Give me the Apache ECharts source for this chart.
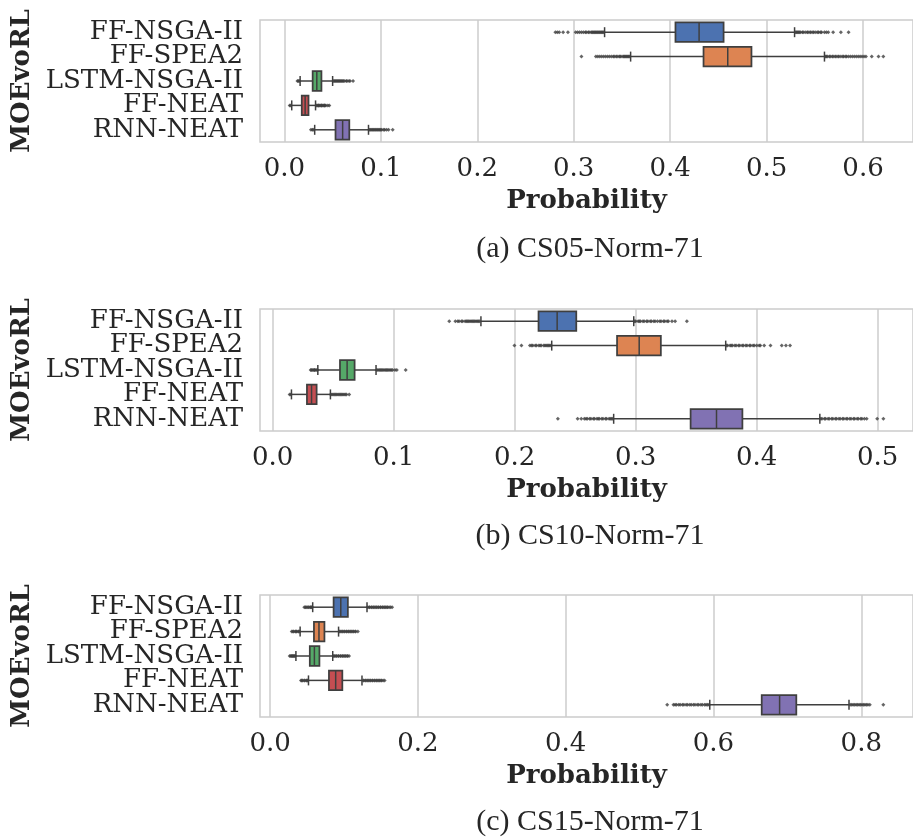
<!DOCTYPE html>
<html>
<head>
<meta charset="utf-8">
<script src="https://cdn.jsdelivr.net/npm/echarts@6/dist/echarts.min.js"></script>
<style>
  html, body { margin: 0; padding: 0; background: #fff; }
  #chart { width: 913px; height: 837px; }
</style>
</head>
<body>
<div id="chart"></div>
<script>
const categories = ['FF-NSGA-II', 'FF-SPEA2', 'LSTM-NSGA-II', 'FF-NEAT', 'RNN-NEAT']

// box stats per category: [lower whisker, Q1, median, Q3, upper whisker]
const cs05Boxes = [
  [0.332, 0.4055, 0.430, 0.4554, 0.529],
  [0.359, 0.4346, 0.4597, 0.4843, 0.560],
  [0.0163, 0.0293, 0.0336, 0.0384, 0.050],
  [0.0076, 0.018, 0.0215, 0.025, 0.0323],
  [0.0314, 0.053, 0.0604, 0.0673, 0.0872]
]
const cs05Fliers = [
  [0.281, 0.283, 0.285, 0.289, 0.294, 0.302, 0.304, 0.306, 0.308, 0.310, 0.312, 0.313, 0.315, 0.316, 0.318, 0.319,
    0.320, 0.321, 0.322, 0.323, 0.324, 0.325, 0.326, 0.327, 0.328, 0.329, 0.330, 0.331,
    0.530, 0.531, 0.532, 0.533, 0.534, 0.535, 0.537, 0.538, 0.540, 0.542, 0.543, 0.545, 0.546, 0.548, 0.549,
    0.551, 0.553, 0.554, 0.556, 0.557, 0.560, 0.562, 0.564, 0.569, 0.577, 0.585],
  [0.308, 0.323, 0.325, 0.327, 0.329, 0.331, 0.333, 0.335, 0.337, 0.339, 0.341, 0.342, 0.344, 0.345, 0.347,
    0.348, 0.349, 0.351, 0.352, 0.353, 0.354, 0.355, 0.356, 0.357, 0.358,
    0.561, 0.562, 0.563, 0.565, 0.566, 0.568, 0.569, 0.571, 0.572, 0.574, 0.575, 0.577, 0.579, 0.580, 0.582,
    0.583, 0.585, 0.587, 0.589, 0.591, 0.593, 0.595, 0.597, 0.599, 0.601, 0.603, 0.609, 0.616, 0.621],
  [0.0135, 0.0145, 0.0155, 0.051, 0.052, 0.053, 0.054, 0.055, 0.056, 0.057, 0.058, 0.059, 0.060, 0.061, 0.062,
    0.064, 0.065, 0.067, 0.068, 0.0712],
  [0.0055, 0.0065, 0.033, 0.034, 0.035, 0.0355, 0.036, 0.037, 0.038, 0.0385, 0.039, 0.040, 0.041, 0.0415, 0.042,
    0.043, 0.045, 0.0466],
  [0.0275, 0.029, 0.030, 0.088, 0.089, 0.090, 0.091, 0.092, 0.093, 0.094, 0.095, 0.096, 0.097, 0.098, 0.099,
    0.100, 0.101, 0.103, 0.104, 0.106, 0.108, 0.1123]
]

const cs10Boxes = [
  [0.1721, 0.2197, 0.2351, 0.2509, 0.2984],
  [0.2306, 0.2846, 0.3029, 0.3208, 0.3744],
  [0.0373, 0.0556, 0.0615, 0.0677, 0.0854],
  [0.0155, 0.0283, 0.0321, 0.0363, 0.0477],
  [0.2818, 0.3454, 0.3668, 0.3882, 0.4522]
]
const cs10Fliers = [
  [0.1459, 0.151, 0.153, 0.154, 0.156, 0.157, 0.159, 0.160, 0.161, 0.162, 0.163, 0.164, 0.165, 0.166, 0.167,
    0.168, 0.169, 0.170, 0.171,
    0.299, 0.300, 0.302, 0.303, 0.304, 0.306, 0.307, 0.309, 0.310, 0.312, 0.313, 0.315, 0.316, 0.318, 0.320,
    0.321, 0.323, 0.324, 0.326, 0.327, 0.330, 0.3326, 0.3423],
  [0.1998, 0.2056, 0.2126, 0.214, 0.215, 0.217, 0.218, 0.220, 0.221, 0.222, 0.224, 0.225, 0.226, 0.227, 0.228,
    0.229, 0.230,
    0.375, 0.376, 0.378, 0.379, 0.380, 0.382, 0.383, 0.385, 0.386, 0.388, 0.389, 0.391, 0.392, 0.394, 0.395,
    0.397, 0.398, 0.400, 0.402, 0.403, 0.4062, 0.4114, 0.4207, 0.4242, 0.4276],
  [0.0314, 0.032, 0.033, 0.034, 0.0345, 0.035, 0.036, 0.037, 0.086, 0.087, 0.088, 0.089, 0.090, 0.091, 0.092,
    0.093, 0.094, 0.095, 0.096, 0.097, 0.098, 0.099, 0.101, 0.1026, 0.1099],
  [0.014, 0.015, 0.048, 0.049, 0.050, 0.051, 0.052, 0.053, 0.054, 0.055, 0.056, 0.057, 0.058, 0.059, 0.060,
    0.061, 0.0632],
  [0.2357, 0.252, 0.255, 0.2576, 0.259, 0.260, 0.262, 0.263, 0.265, 0.266, 0.268, 0.269, 0.270, 0.272, 0.273,
    0.275, 0.276, 0.278, 0.279, 0.280, 0.281,
    0.453, 0.454, 0.456, 0.457, 0.459, 0.460, 0.462, 0.463, 0.465, 0.466, 0.468, 0.469, 0.471, 0.472, 0.474,
    0.475, 0.477, 0.478, 0.480, 0.481, 0.483, 0.484, 0.486, 0.487, 0.489, 0.4909, 0.4996, 0.5047]
]

const cs15Boxes = [
  [0.0577, 0.086, 0.0957, 0.1053, 0.1312],
  [0.0407, 0.0594, 0.0662, 0.0736, 0.0927],
  [0.035, 0.0538, 0.060, 0.0668, 0.0848],
  [0.052, 0.0797, 0.0888, 0.0978, 0.1244],
  [0.595, 0.6653, 0.6895, 0.7121, 0.7834]
]
const cs15Fliers = [
  [0.0464, 0.048, 0.049, 0.051, 0.052, 0.054, 0.055, 0.056, 0.057, 0.132, 0.134, 0.135, 0.137, 0.138, 0.140,
    0.141, 0.143, 0.144, 0.146, 0.147, 0.149, 0.150, 0.152, 0.153, 0.155, 0.156, 0.158, 0.159, 0.161, 0.163, 0.1652],
  [0.0294, 0.031, 0.032, 0.034, 0.035, 0.036, 0.038, 0.039, 0.040, 0.094, 0.095, 0.097, 0.098, 0.100, 0.101,
    0.103, 0.104, 0.106, 0.107, 0.109, 0.110, 0.112, 0.113, 0.115, 0.116, 0.1188],
  [0.0266, 0.028, 0.029, 0.030, 0.031, 0.032, 0.033, 0.034, 0.086, 0.087, 0.089, 0.090, 0.092, 0.093, 0.095,
    0.096, 0.098, 0.099, 0.101, 0.102, 0.104, 0.105, 0.1069],
  [0.0419, 0.043, 0.044, 0.046, 0.047, 0.049, 0.050, 0.051, 0.126, 0.127, 0.129, 0.130, 0.132, 0.133, 0.135,
    0.136, 0.138, 0.139, 0.141, 0.142, 0.144, 0.145, 0.147, 0.148, 0.150, 0.151, 0.153, 0.155],
  [0.5374, 0.5458, 0.548, 0.550, 0.553, 0.555, 0.558, 0.560, 0.563, 0.565, 0.568, 0.570, 0.573, 0.575, 0.578,
    0.580, 0.583, 0.585, 0.588, 0.590, 0.592, 0.594,
    0.785, 0.787, 0.789, 0.791, 0.793, 0.795, 0.797, 0.799, 0.801, 0.803, 0.805, 0.807, 0.809, 0.8116, 0.8298]
]

const cs05Ticks = [0, 0.1, 0.2, 0.3, 0.4, 0.5, 0.6]
const cs10Ticks = [0, 0.1, 0.2, 0.3, 0.4, 0.5]
const cs15Ticks = [0, 0.2, 0.4, 0.6, 0.8]

const captions = ['(a) CS05-Norm-71', '(b) CS10-Norm-71', '(c) CS15-Norm-71']

const palette = ['#4C72B0', '#DD8452', '#55A868', '#C44E52', '#8172B3']
const lineColor = '#3f3f3f'
const textColor = '#262626'
const font = 'DejaVu Serif'

const panels = [
  { boxes: cs05Boxes, fliers: cs05Fliers, ticks: cs05Ticks, min: -0.0253, max: 0.6518, top: 20, capY: 249 },
  { boxes: cs10Boxes, fliers: cs10Fliers, ticks: cs10Ticks, min: -0.0105, max: 0.5292, top: 309, capY: 536 },
  { boxes: cs15Boxes, fliers: cs15Fliers, ticks: cs15Ticks, min: -0.0136, max: 0.8700, top: 595, capY: 822 }
]

function renderBox(params, api) {
  const cat = api.value(0)
  const lo = api.coord([api.value(1), cat])
  const q1 = api.coord([api.value(2), cat])
  const md = api.coord([api.value(3), cat])
  const q3 = api.coord([api.value(4), cat])
  const hi = api.coord([api.value(5), cat])
  const h = api.size([0, 1])[1] * 0.8
  const cy = q1[1]
  const cap = 5
  const stroke = { stroke: lineColor, lineWidth: 1.5 }
  return {
    type: 'group',
    children: [
      { type: 'line', shape: { x1: lo[0], y1: cy, x2: q1[0], y2: cy }, style: stroke },
      { type: 'line', shape: { x1: q3[0], y1: cy, x2: hi[0], y2: cy }, style: stroke },
      { type: 'line', shape: { x1: lo[0], y1: cy - cap, x2: lo[0], y2: cy + cap }, style: stroke },
      { type: 'line', shape: { x1: hi[0], y1: cy - cap, x2: hi[0], y2: cy + cap }, style: stroke },
      {
        type: 'rect',
        shape: { x: q1[0], y: cy - h / 2, width: q3[0] - q1[0], height: h },
        style: { fill: palette[cat], stroke: lineColor, lineWidth: 1.75 }
      },
      { type: 'line', shape: { x1: md[0], y1: cy - h / 2, x2: md[0], y2: cy + h / 2 }, style: stroke }
    ]
  }
}

const grid = []
const xAxis = []
const yAxis = []
const series = []
const graphic = []

panels.forEach((p, i) => {
  grid.push({
    left: 260, top: p.top, width: 660, height: 122,
    show: true, borderColor: '#cccccc', borderWidth: 1.5, backgroundColor: '#fff'
  })
  xAxis.push({
    type: 'value',
    gridIndex: i,
    min: p.min,
    max: p.max,
    name: 'Probability',
    nameLocation: 'middle',
    nameGap: 46,
    nameTextStyle: { fontFamily: font, fontWeight: 'bold', fontSize: 26, color: textColor },
    axisLine: { show: false },
    axisTick: { show: false, customValues: p.ticks },
    splitLine: { show: true, lineStyle: { color: '#cccccc', width: 1.5 } },
    axisLabel: {
      customValues: p.ticks,
      formatter: v => v.toFixed(1),
      fontFamily: font, fontSize: 26, color: textColor, margin: 14
    }
  })
  yAxis.push({
    type: 'category',
    gridIndex: i,
    data: categories,
    inverse: true,
    name: 'MOEvoRL',
    nameLocation: 'middle',
    nameRotate: 90,
    nameGap: 223,
    nameTextStyle: { fontFamily: font, fontWeight: 'bold', fontSize: 26, color: textColor },
    axisLine: { show: false },
    axisTick: { show: false },
    splitLine: { show: false },
    axisLabel: { interval: 0, fontFamily: font, fontSize: 26, color: textColor, margin: 17 }
  })
  series.push({
    type: 'custom',
    xAxisIndex: i,
    yAxisIndex: i,
    renderItem: renderBox,
    encode: { x: [1, 2, 3, 4, 5], y: 0 },
    data: p.boxes.map((b, c) => [c].concat(b)),
    z: 3
  })
  const pts = []
  p.fliers.forEach((vals, c) => vals.forEach(v => pts.push([v, categories[c]])))
  series.push({
    type: 'scatter',
    xAxisIndex: i,
    yAxisIndex: i,
    symbol: 'diamond',
    symbolSize: 4,
    itemStyle: { color: lineColor },
    data: pts,
    z: 2
  })
  graphic.push({
    type: 'text',
    x: 590,
    y: p.capY,
    style: {
      text: captions[i],
      font: '30px "Liberation Serif"',
      fill: textColor,
      textAlign: 'center',
      textVerticalAlign: 'middle'
    }
  })
})

const chart = echarts.init(document.getElementById('chart'), null, { renderer: 'canvas' })
chart.setOption({
  animation: false,
  backgroundColor: '#fff',
  grid,
  xAxis,
  yAxis,
  series,
  graphic
})
</script>
</body>
</html>
